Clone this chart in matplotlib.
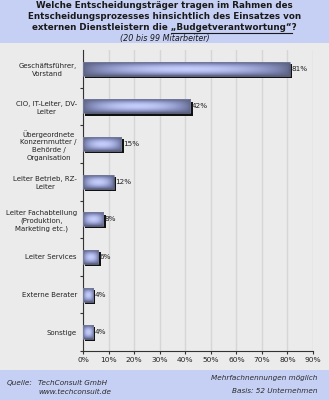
import numpy as np
import matplotlib
matplotlib.use("Agg")
import matplotlib.pyplot as plt
from matplotlib.patches import Rectangle
from matplotlib.colors import LinearSegmentedColormap
from matplotlib.transforms import ScaledTranslation

# Daten
categories = [
    "Geschäftsführer,\nVorstand",
    "CIO, IT-Leiter, DV-\nLeiter",
    "Übergeordnete\nKonzernmutter /\nBehörde /\nOrganisation",
    "Leiter Betrieb, RZ-\nLeiter",
    "Leiter Fachabteilung\n(Produktion,\nMarketing etc.)",
    "Leiter Services",
    "Externe Berater",
    "Sonstige",
]
values = [81, 42, 15, 12, 8, 6, 4, 4]
x_ticks = [0, 10, 20, 30, 40, 50, 60, 70, 80, 90]

plt.rcParams['font.family'] = 'DejaVu Sans'

fig = plt.figure(figsize=(3.29, 4.0), dpi=100)
fig.patch.set_facecolor('#ebebeb')

# Hintergrundbänder oben / unten
band = '#c6d0f4'
fig.patches.append(Rectangle((0, 1 - 43 / 400), 1, 43 / 400, transform=fig.transFigure,
                             facecolor=band, edgecolor='none', zorder=0))
fig.patches.append(Rectangle((0, 0), 1, 30 / 400, transform=fig.transFigure,
                             facecolor=band, edgecolor='none', zorder=0))

# Titel
tc = '#1a1a1a'
tfs = 6.3
fig.text(0.5, 1 - 6 / 400, "Welche Entscheidungsträger tragen im Rahmen des",
         ha='center', va='center', fontsize=tfs, fontweight='bold', color=tc)
fig.text(0.5, 1 - 16.5 / 400, "Entscheidungsprozesses hinsichtlich des Einsatzes von",
         ha='center', va='center', fontsize=tfs, fontweight='bold', color=tc)
t3 = fig.text(0.5, 1 - 27 / 400, "externen Dienstleistern die „Budgetverantwortung“?",
              ha='center', va='center', fontsize=tfs, fontweight='bold', color=tc)
fig.text(0.5, 1 - 38 / 400, "(20 bis 99 Mitarbeiter)",
         ha='center', va='center', fontsize=5.8, style='italic', color=tc)

ax = fig.add_axes([83 / 329, 1 - 351 / 400, (313 - 83) / 329, (351 - 50) / 400])
ax.set_facecolor('#ebebeb')

ypos = np.arange(len(values))
h = 0.37

# Schatten
shadow = ax.transData + ScaledTranslation(1.6 / 72, -1.6 / 72, fig.dpi_scale_trans)
ax.barh(ypos, values, height=h, color='#111111', transform=shadow, zorder=2)

# Balken mit Verlauf
cmap = LinearSegmentedColormap.from_list('bar', ['#5b6180', '#8b93c4', '#c4ccfb'])
for y, v in zip(ypos, values):
    xx = np.linspace(0, 1, 200)
    yy = np.linspace(0, 1, 20)
    fx = np.sin(np.pi * xx) ** 0.6
    fy = np.sin(np.pi * yy) ** 0.8
    grad = np.outer(fy, fx)
    ax.imshow(grad, cmap=cmap, extent=(0, v, y + h / 2, y - h / 2), aspect='auto',
              interpolation='bilinear', zorder=3, vmin=0, vmax=1)
    ax.add_patch(Rectangle((0, y - h / 2), v, h, facecolor='none',
                           edgecolor='#7a80a0', lw=0.5, zorder=4))
    ax.text(v + 0.6, y, f"{v}%", va='center', ha='left', fontsize=5.2,
            color='#222222', zorder=5)

ax.set_xlim(0, 90)
ax.set_ylim(len(values) - 0.5, -0.5)
ax.set_xticks(x_ticks)
ax.set_xticklabels([f"{t}%" for t in x_ticks], fontsize=5.4, color='#222222')
ax.set_yticks(ypos)
ax.set_yticklabels(categories, fontsize=5.0, color='#222222', linespacing=1.35, ha='right')
for lbl in ax.get_yticklabels():
    lbl.set_multialignment('center')
ax.tick_params(axis='y', length=0, pad=4.5)
ax.set_yticks(np.arange(len(values)) + 0.5, minor=True)
ax.tick_params(axis='y', which='minor', length=2.5, width=0.8, color='#333333')
ax.tick_params(axis='x', length=2, width=0.8, color='#333333', pad=2)

ax.grid(axis='x', color='#d6d6d6', lw=1.0, zorder=1)
ax.set_axisbelow(True)
for s in ['top', 'right']:
    ax.spines[s].set_visible(False)
for s in ['left', 'bottom']:
    ax.spines[s].set_color('#333333')
    ax.spines[s].set_linewidth(0.8)

# Fußzeile
fc = '#2a2a2a'
fig.text(7 / 329, 1 - 383 / 400, "Quelle:", fontsize=5.2, style='italic', va='center', color=fc)
fig.text(38 / 329, 1 - 383 / 400, "TechConsult GmbH", fontsize=5.2, style='italic', va='center', color=fc)
fig.text(38 / 329, 1 - 391.5 / 400, "www.techconsult.de", fontsize=5.2, style='italic', va='center', color=fc)
fig.text(317 / 329, 1 - 378 / 400, "Mehrfachnennungen möglich", fontsize=5.2, style='italic',
         va='center', ha='right', color=fc)
fig.text(317 / 329, 1 - 391 / 400, "Basis: 52 Unternehmen", fontsize=5.2, style='italic',
         va='center', ha='right', color=fc)

# Unterstreichung von „Budgetverantwortung"
fig.canvas.draw()
r = fig.canvas.get_renderer()
bb = t3.get_window_extent(r)
prefix = "externen Dienstleistern die "
ptxt = fig.text(0, 0, prefix, fontsize=tfs, fontweight='bold')
pw = ptxt.get_window_extent(r).width
ptxt.remove()
utxt = fig.text(0, 0, "„Budgetverantwortung“", fontsize=tfs, fontweight='bold')
uw = utxt.get_window_extent(r).width
utxt.remove()
W = fig.bbox.width
x0 = (bb.x0 + pw) / W
x1 = (bb.x0 + pw + uw) / W
yl = 1 - 32.5 / 400
fig.add_artist(plt.Line2D([x0, x1], [yl, yl], transform=fig.transFigure, color=tc, lw=0.8))

fig.savefig("out.png", dpi=100, facecolor=fig.get_facecolor())
